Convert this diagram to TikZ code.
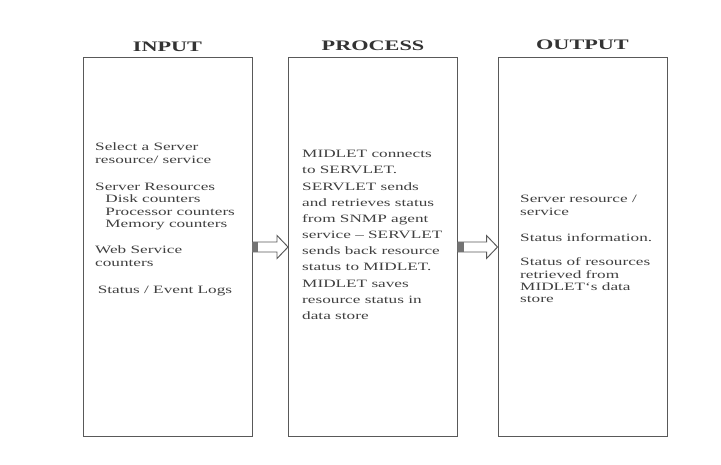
\documentclass[tikz,border=0pt]{standalone}
\usepackage{fontspec}
\setmainfont{Liberation Serif}
\usepackage{graphicx}
\usetikzlibrary{calc,positioning}

% the scanned page is stretched sideways
\newcommand{\widetext}[1]{\scalebox{1.53}[1]{\begin{tabular}{@{}l@{}}#1\end{tabular}}}

\begin{document}
\begin{tikzpicture}[
    x=0.03cm, y=-0.03cm,
    stage/.style={draw=black!65, line width=0.8pt, minimum width=5.07cm, minimum height=11.35cm},
    title/.style={inner sep=0pt, font=\fontsize{12.4}{14}\selectfont\bfseries, text=black!80},
    body/.style={inner sep=0pt, anchor=north west, text=black!75},
    blk/.style={draw=black!65, line width=0.8pt, fill=white},
    band/.style={fill=black!55}
]
\fill[white] (0,0) rectangle (721,464);
\useasboundingbox (0,0) rectangle (721,464);

% Stages
\node[stage] (in) at (167.5,247) {};
\node[stage] (pr) at (373,247) {};
\node[stage] (out) at (582.5,247) {};

% Titles
\node[title, above=0.03cm of in.north] (intitle) {\widetext{INPUT}};
\node[title, above=0.06cm of pr.north] (prtitle) {\widetext{PROCESS}};
\node[title, above=0.09cm of out.north] (outtitle) {\widetext{OUTPUT}};

% Texts
\node[body, font=\fontsize{9.6}{10.8}\selectfont] (intext) at (95,141.6) {\widetext{%
    Select a Server\\
    resource/ service\\[0.42cm]
    Server Resources\\
    \hspace{0.2cm}Disk counters\\
    \hspace{0.2cm}Processor counters\\
    \hspace{0.2cm}Memory counters\\[0.4cm]
    Web Service\\
    counters\\[0.42cm]
    \hspace{0.05cm}Status / Event Logs}};
\node[body, font=\fontsize{9.6}{13.8}\selectfont] (prtext) at (302,146.2) {\widetext{%
    MIDLET connects\\
    to SERVLET.\\
    SERVLET sends\\
    and retrieves status\\
    from SNMP agent\\
    service -- SERVLET\\
    sends back resource\\
    status to MIDLET.\\
    MIDLET saves\\
    resource status in\\
    data store}};
\node[body, font=\fontsize{9.6}{10.5}\selectfont] (outtext) at (520,193.9) {\widetext{%
    Server resource /\\
    service\\[0.41cm]
    Status information.\\[0.38cm]
    Status of resources\\
    retrieved from\\
    MIDLET`s data\\
    store}};

% Block arrows between stages
\foreach \a/\b in {in/pr, pr/out} {
    \draw[blk] ($(\a.east)+(0,-5)$) -- ($(\b.west)+(-11,-5)$) -- ($(\b.west)+(-11,-11.5)$)
        -- (\b.west) -- ($(\b.west)+(-11,11.5)$) -- ($(\b.west)+(-11,5)$) -- ($(\a.east)+(0,5)$);
    \fill[band] ($(\a.east)+(0,-5)$) rectangle ($(\a.east)+(6,5)$);
}

\end{tikzpicture}
\end{document}
